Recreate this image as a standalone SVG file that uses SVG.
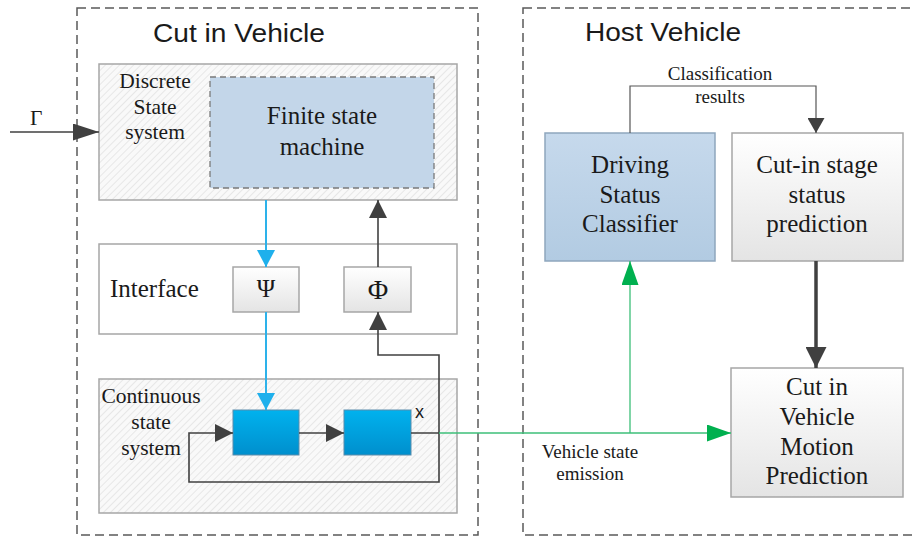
<svg xmlns="http://www.w3.org/2000/svg" width="915" height="540" viewBox="0 0 915 540">
  <style>
    .container { fill: none; stroke: #5a5a5a; stroke-width: 1.5; stroke-dasharray: 9 5; }
    .panel { stroke: #a6a6a6; stroke-width: 1.5; }
    .title { font-family: "Liberation Sans", Arial, sans-serif; font-size: 25px; fill: #1a1a1a; }
    .lbl { font-family: "Liberation Serif", "Times New Roman", serif; fill: #1a1a1a; }
    .big { font-size: 25px; }
    .mid { font-size: 21.5px; }
    .small { font-size: 19px; }
    .mid-anchor { text-anchor: middle; }
    .wire { fill: none; stroke: #404040; stroke-width: 1.6; }
    .blue { fill: none; stroke: #2db2ea; stroke-width: 2; }
    .green { fill: none; stroke: #3cbf78; stroke-width: 1.3; }
  </style>
  <defs>
    <pattern id="hatch" width="5" height="5" patternUnits="userSpaceOnUse" patternTransform="rotate(45)">
      <rect width="5" height="5" fill="#f9f9f9"/>
      <line x1="0" y1="0" x2="0" y2="5" stroke="#e0e0e0" stroke-width="1.4"/>
    </pattern>
    <linearGradient id="gGray" x1="0" y1="0" x2="0" y2="1">
      <stop offset="0" stop-color="#ffffff"/>
      <stop offset="1" stop-color="#e4e4e4"/>
    </linearGradient>
    <linearGradient id="gBlueBlock" x1="0" y1="0" x2="0" y2="1">
      <stop offset="0" stop-color="#00b2ee"/>
      <stop offset="1" stop-color="#008fcd"/>
    </linearGradient>
    <linearGradient id="gLightBlue" x1="0" y1="0" x2="0" y2="1">
      <stop offset="0" stop-color="#c6d9ec"/>
      <stop offset="1" stop-color="#b2cbe2"/>
    </linearGradient>
    <marker id="arrDark" viewBox="0 0 18 18" refX="18" refY="9" markerWidth="18" markerHeight="18" orient="auto" markerUnits="userSpaceOnUse">
      <path d="M0,0 L18,9 L0,18 Z" fill="#404040"/>
    </marker>
    <marker id="arrDarkBig" viewBox="0 0 26 17" refX="26" refY="8.5" markerWidth="26" markerHeight="17" orient="auto" markerUnits="userSpaceOnUse">
      <path d="M0,0 L26,8.5 L0,17 Z" fill="#404040"/>
    </marker>
    <marker id="arrThick" viewBox="0 0 21 21" refX="21" refY="10.5" markerWidth="21" markerHeight="21" orient="auto" markerUnits="userSpaceOnUse">
      <path d="M0,0 L21,10.5 L0,21 Z" fill="#404040"/>
    </marker>
    <marker id="arrSmall" viewBox="0 0 15 17" refX="15" refY="8.5" markerWidth="15" markerHeight="17" orient="auto" markerUnits="userSpaceOnUse">
      <path d="M0,0 L15,8.5 L0,17 Z" fill="#404040"/>
    </marker>
    <marker id="arrBlue" viewBox="0 0 17 18" refX="17" refY="9" markerWidth="17" markerHeight="18" orient="auto" markerUnits="userSpaceOnUse">
      <path d="M0,0 L17,9 L0,18 Z" fill="#1fb0ec"/>
    </marker>
    <marker id="arrGreen" viewBox="0 0 24 17" refX="24" refY="8.5" markerWidth="24" markerHeight="17" orient="auto" markerUnits="userSpaceOnUse">
      <path d="M0,0 L24,8.5 L0,17 Z" fill="#00b04f"/>
    </marker>
  </defs>

  <rect width="915" height="540" fill="#ffffff"/>

  <!-- Outer groupings -->
  <g id="cut-in-vehicle">
    <rect class="container" x="77" y="8" width="401" height="527"/>
    <text class="title" x="153" y="42" textLength="172" lengthAdjust="spacingAndGlyphs">Cut in Vehicle</text>
  </g>
  <g id="host-vehicle">
    <rect class="container" x="523" y="8" width="400" height="527"/>
    <text class="title" x="585" y="41" textLength="156" lengthAdjust="spacingAndGlyphs">Host Vehicle</text>
  </g>

  <!-- Discrete state system -->
  <g id="discrete-system">
    <rect class="panel" x="99" y="64" width="358" height="136" fill="url(#hatch)"/>
    <text class="lbl mid mid-anchor" x="155" y="88">Discrete</text>
    <text class="lbl mid mid-anchor" x="155" y="114">State</text>
    <text class="lbl mid mid-anchor" x="155" y="139">system</text>
  </g>
  <g id="finite-state-machine">
    <rect x="210" y="77" width="224" height="111" fill="#c3d6e9" stroke="#7a7a7a" stroke-width="1.3" stroke-dasharray="6 4"/>
    <text class="lbl big mid-anchor" x="322" y="124">Finite state</text>
    <text class="lbl big mid-anchor" x="322" y="155">machine</text>
  </g>

  <!-- Interface -->
  <g id="interface">
    <rect class="panel" x="99" y="244" width="358" height="90" fill="#ffffff"/>
    <text class="lbl big" x="110" y="297">Interface</text>
  </g>
  <g id="psi">
    <rect class="panel" x="233" y="267" width="66" height="45" fill="url(#gGray)"/>
    <text class="lbl mid-anchor" x="266" y="297" font-size="25">Ψ</text>
  </g>
  <g id="phi">
    <rect class="panel" x="344" y="267" width="67" height="45" fill="url(#gGray)"/>
    <text class="lbl mid-anchor" x="378" y="299" font-size="28">Φ</text>
  </g>

  <!-- Continuous state system -->
  <g id="continuous-system">
    <rect class="panel" x="99" y="379" width="358" height="134" fill="url(#hatch)"/>
    <text class="lbl mid mid-anchor" x="151" y="403">Continuous</text>
    <text class="lbl mid mid-anchor" x="151" y="429">state</text>
    <text class="lbl mid mid-anchor" x="151" y="455">system</text>
  </g>
  <g id="block-1">
    <rect x="233" y="410" width="66" height="45" fill="url(#gBlueBlock)" stroke="#5a8cab" stroke-width="1"/>
  </g>
  <g id="block-2">
    <rect x="344" y="410" width="67" height="45" fill="url(#gBlueBlock)" stroke="#5a8cab" stroke-width="1"/>
  </g>

  <!-- Host vehicle blocks -->
  <g id="driving-status-classifier">
    <rect x="545" y="133" width="170" height="128" fill="url(#gLightBlue)" stroke="#8ea6bd" stroke-width="1.5"/>
    <text class="lbl big mid-anchor" x="630" y="173">Driving</text>
    <text class="lbl big mid-anchor" x="630" y="203">Status</text>
    <text class="lbl big mid-anchor" x="630" y="232">Classifier</text>
  </g>
  <g id="cut-in-stage-prediction">
    <rect class="panel" x="732" y="133" width="171" height="128" fill="url(#gGray)"/>
    <text class="lbl big mid-anchor" x="817" y="173">Cut-in stage</text>
    <text class="lbl big mid-anchor" x="817" y="203">status</text>
    <text class="lbl big mid-anchor" x="817" y="232">prediction</text>
  </g>
  <g id="motion-prediction">
    <rect class="panel" x="731" y="368" width="172" height="129" fill="url(#gGray)"/>
    <text class="lbl big mid-anchor" x="817" y="395">Cut in</text>
    <text class="lbl big mid-anchor" x="817" y="425">Vehicle</text>
    <text class="lbl big mid-anchor" x="817" y="455">Motion</text>
    <text class="lbl big mid-anchor" x="817" y="484">Prediction</text>
  </g>

  <!-- Connectors -->
  <g id="connectors">
    <!-- external input -->
    <line class="wire" x1="10" y1="132" x2="99" y2="132" marker-end="url(#arrDarkBig)"/>
    <text class="lbl mid" x="30" y="125">Γ</text>

    <!-- discrete to interface and back -->
    <line class="blue" x1="266" y1="200" x2="266" y2="267" marker-end="url(#arrBlue)"/>
    <line class="wire" x1="378" y1="267" x2="378" y2="200" marker-end="url(#arrDark)"/>

    <!-- interface to continuous -->
    <line class="blue" x1="266" y1="312" x2="266" y2="410" marker-end="url(#arrBlue)"/>

    <!-- block chain with feedback -->
    <line class="wire" x1="299" y1="433" x2="344" y2="433" marker-end="url(#arrDark)"/>
    <polyline class="wire" points="411,433 439,433 439,482 189,482 189,433 233,433" marker-end="url(#arrDark)"/>
    <polyline class="wire" points="439,433 439,355 378,355 378,312" marker-end="url(#arrDark)"/>
    <text x="415" y="418" font-family="Liberation Sans, Arial, sans-serif" font-size="18" fill="#1a1a1a">x</text>

    <!-- vehicle state emission -->
    <line class="green" x1="439" y1="433" x2="731" y2="433" marker-end="url(#arrGreen)"/>
    <line class="green" x1="630" y1="433" x2="630" y2="261" marker-end="url(#arrGreen)"/>
    <text class="lbl small mid-anchor" x="590" y="458">Vehicle state</text>
    <text class="lbl small mid-anchor" x="590" y="480">emission</text>

    <!-- classification results -->
    <polyline fill="none" stroke="#555555" stroke-width="1.2" points="630,133 630,86 816,86 816,133" marker-end="url(#arrSmall)"/>
    <text class="lbl small mid-anchor" x="720" y="80">Classification</text>
    <text class="lbl small mid-anchor" x="720" y="103">results</text>

    <!-- stage prediction to motion prediction -->
    <line fill="none" stroke="#404040" stroke-width="3.5" x1="816" y1="261" x2="816" y2="368" marker-end="url(#arrThick)"/>
  </g>
</svg>
